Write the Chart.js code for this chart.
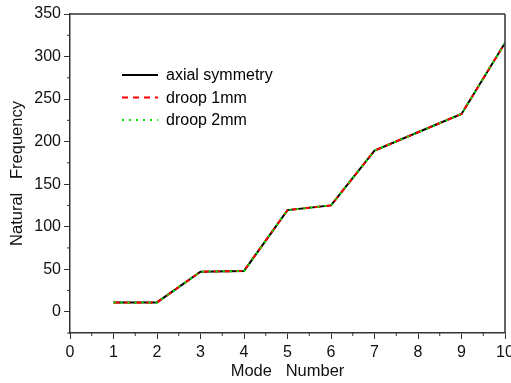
<!DOCTYPE html>
<html lang="en">
<head>
<meta charset="UTF-8">
<title>Natural Frequency vs Mode Number</title>
<style>
  body { margin: 0; background: #fff; }
  #wrap { width: 511px; height: 383px; }
</style>
</head>
<body>
<div id="wrap"><canvas id="freqChart" width="511" height="383"></canvas></div>
<script src="https://cdn.jsdelivr.net/npm/chart.js"></script>
<script>
// data
const modes = [1, 2, 3, 4, 5, 6, 7, 8, 9, 10];
const axialSymmetry = [11, 11, 47, 48, 119.5, 125, 189.5, 211, 232.5, 316];
const droop1mm = [11, 11, 47, 48, 119.5, 125, 189.5, 211, 232.5, 316];
const droop2mm = [11, 11, 47, 48, 119.5, 125, 189.5, 211, 232.5, 316];
const xTicks = [0, 1, 2, 3, 4, 5, 6, 7, 8, 9, 10];
const yTicks = [0, 50, 100, 150, 200, 250, 300, 350];

const FONT = 'Arial, "Liberation Sans", sans-serif';

function toPoints(ys) {
  return modes.map((m, i) => ({ x: m, y: ys[i] }));
}

// frame, minor ticks and the inner legend
const framePlugin = {
  id: 'frame',
  afterDraw(chart) {
    const ctx = chart.ctx;
    const a = chart.chartArea;
    const xs = chart.scales.x, ys = chart.scales.y;
    ctx.save();
    ctx.strokeStyle = '#333';
    ctx.lineWidth = 1.5;
    ctx.beginPath();
    ctx.moveTo(a.left, a.top); ctx.lineTo(a.right, a.top);
    ctx.moveTo(a.right, a.top); ctx.lineTo(a.right, a.bottom);
    ctx.stroke();
    // minor ticks
    ctx.lineWidth = 1;
    ctx.beginPath();
    for (let v = 0.5; v < 10; v += 1) {
      const px = xs.getPixelForValue(v);
      ctx.moveTo(px, a.bottom); ctx.lineTo(px, a.bottom + 3);
    }
    for (let v = -25; v < 350; v += 50) {
      const py = ys.getPixelForValue(v);
      ctx.moveTo(a.left, py); ctx.lineTo(a.left - 3, py);
    }
    ctx.stroke();

    // legend
    const items = [
      { label: 'axial symmetry', color: '#000', dash: [] },
      { label: 'droop 1mm', color: '#ff0000', dash: [6, 5] },
      { label: 'droop 2mm', color: '#00ee00', dash: [2, 5] }
    ];
    ctx.font = '16px ' + FONT;
    ctx.textBaseline = 'middle';
    ctx.fillStyle = '#000';
    items.forEach((it, i) => {
      const y = 75 + i * 22.5;
      ctx.strokeStyle = it.color;
      ctx.lineWidth = 1.8;
      ctx.setLineDash(it.dash);
      ctx.beginPath();
      ctx.moveTo(122, y); ctx.lineTo(158, y);
      ctx.stroke();
      ctx.setLineDash([]);
      ctx.fillText(it.label, 166, y + 1);
    });
    ctx.restore();
  }
};

new Chart(document.getElementById('freqChart'), {
  type: 'line',
  data: {
    datasets: [
      { label: 'axial symmetry', data: toPoints(axialSymmetry), borderColor: '#000', borderWidth: 2, order: 3 },
      { label: 'droop 1mm', data: toPoints(droop1mm), borderColor: '#ff0000', borderWidth: 2, borderDash: [6, 5], order: 2 },
      { label: 'droop 2mm', data: toPoints(droop2mm), borderColor: '#00ee00', borderWidth: 2, borderDash: [2, 5], order: 1 }
    ]
  },
  options: {
    responsive: false,
    animation: false,
    events: [],
    layout: { padding: { top: 14, right: 6, left: 0, bottom: 0 } },
    elements: { point: { radius: 0 }, line: { tension: 0 } },
    plugins: { legend: { display: false }, tooltip: { enabled: false } },
    scales: {
      x: {
        type: 'linear', min: 0, max: 10,
        afterBuildTicks: s => { s.ticks = xTicks.map(v => ({ value: v })); },
        afterFit: s => { s.height = 50; s.paddingLeft = 0; s.paddingRight = 0; },
        grid: { drawOnChartArea: false, tickLength: 6, color: '#333', tickColor: '#333' },
        border: { color: '#333', width: 1.5 },
        ticks: { color: '#111', font: { size: 16, family: FONT }, padding: 4, maxRotation: 0 },
        title: { display: true, text: 'Mode   Number', color: '#111', font: { size: 16.5, family: FONT }, padding: { top: 0, bottom: 2 } }
      },
      y: {
        type: 'linear', min: -25, max: 350,
        afterBuildTicks: s => { s.ticks = yTicks.map(v => ({ value: v })); },
        afterFit: s => { s.width = 70; },
        grid: { drawOnChartArea: false, tickLength: 6, color: '#333', tickColor: '#333' },
        border: { color: '#333', width: 1.5 },
        ticks: { color: '#111', font: { size: 16, family: FONT }, padding: 3 },
        title: { display: true, text: 'Natural   Frequency', color: '#111', font: { size: 16.5, family: FONT }, padding: { top: 8, bottom: 0 } }
      }
    }
  },
  plugins: [framePlugin]
});
</script>
</body>
</html>
